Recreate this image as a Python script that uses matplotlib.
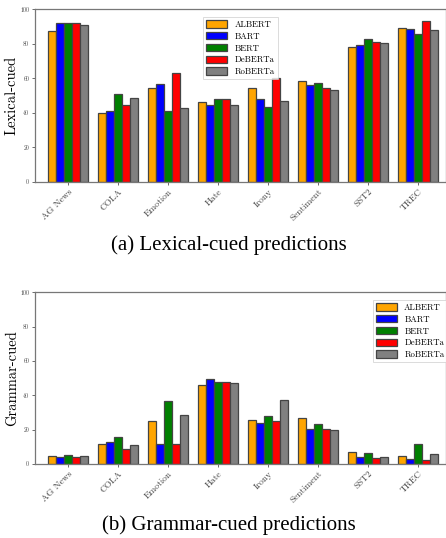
import matplotlib.pyplot as plt
import numpy as np

datasets = ['AG News', 'COLA', 'Emotion', 'Hate', 'Irony', 'Sentiment', 'SST2', 'TREC']
models = ['ALBERT', 'BART', 'BERT', 'DeBERTa', 'RoBERTa']
colors = ['orange', 'blue', 'green', 'red', 'gray']

# lexical-cued predictions, one list per model
lex_albert = [87.2, 39.7, 54.2, 46.0, 54.2, 58.2, 77.9, 89.0]
lex_bart = [91.7, 41.2, 56.9, 44.5, 48.0, 55.9, 79.5, 88.4]
lex_bert = [91.7, 50.7, 40.8, 48.0, 43.1, 57.1, 82.6, 85.5]
lex_deberta = [92.1, 44.7, 63.1, 48.0, 60.3, 54.5, 80.9, 93.0]
lex_roberta = [90.9, 48.4, 42.9, 44.5, 47.0, 53.0, 80.3, 88.2]

# grammar-cued predictions
gram_albert = [4.9, 11.7, 25.1, 45.7, 25.7, 26.5, 7.0, 4.5]
gram_bart = [4.3, 12.6, 11.5, 49.6, 23.9, 20.6, 4.3, 2.7]
gram_bert = [5.4, 15.8, 36.8, 47.5, 28.2, 23.3, 6.2, 11.9]
gram_deberta = [4.3, 8.9, 11.9, 47.5, 25.3, 20.4, 3.7, 2.3]
gram_roberta = [4.9, 10.9, 28.4, 46.9, 37.0, 19.8, 4.3, 6.0]

lexical = [lex_albert, lex_bart, lex_bert, lex_deberta, lex_roberta]
grammar = [gram_albert, gram_bart, gram_bert, gram_deberta, gram_roberta]

fig = plt.figure(figsize=(4.46, 5.38), dpi=100)
ax1 = fig.add_axes([0.078, 0.662, 0.922, 0.321])
ax2 = fig.add_axes([0.078, 0.1375, 0.922, 0.3195])

x = np.arange(len(datasets))
w = 0.16


def draw(ax, series, ylabel, legend_loc, anchor):
    for i, vals in enumerate(series):
        ax.bar(x + (i - 2) * w, vals, w, color=colors[i], edgecolor='#444444',
               linewidth=0.9, label=models[i])
    ax.set_ylim(0, 100)
    ax.set_xlim(-0.67, 7.55)
    ax.set_xticks(x)
    ax.set_xticklabels(datasets, rotation=45, ha='right', rotation_mode='anchor',
                       fontsize=6.8, family='cmr10', color='#444444')
    ax.set_yticks([0, 20, 40, 60, 80, 100])
    ax.set_yticklabels(['0', '20', '40', '60', '80', '100'], fontsize=4.2,
                       family='cmr10', color='#444444')
    ax.tick_params(axis='both', length=2.5, width=0.6, color='#555555', pad=1.5)
    ax.set_ylabel(ylabel, family='cmr10', fontsize=10.5, labelpad=1)
    for s in ax.spines.values():
        s.set_color('#777777')
        s.set_linewidth(0.9)
    leg = ax.legend(loc=legend_loc, bbox_to_anchor=anchor, prop={'family': 'cmr10', 'size': 6.3},
                    handlelength=2.4, handleheight=0.9, labelspacing=0.35,
                    borderpad=0.4, fancybox=False)
    leg.get_frame().set_edgecolor('#cccccc')
    leg.get_frame().set_linewidth(0.6)


draw(ax1, lexical, 'Lexical-cued', 'upper center', (0.5, 0.98))
draw(ax2, grammar, 'Grammar-cued', 'upper right', (1.015, 0.98))

fig.text(0.513, 0.545, '(a) Lexical-cued predictions', ha='center', va='center',
         family='Liberation Serif', fontsize=15)
fig.text(0.513, 0.024, '(b) Grammar-cued predictions', ha='center', va='center',
         family='Liberation Serif', fontsize=15)

fig.savefig('out.png', dpi=100)
